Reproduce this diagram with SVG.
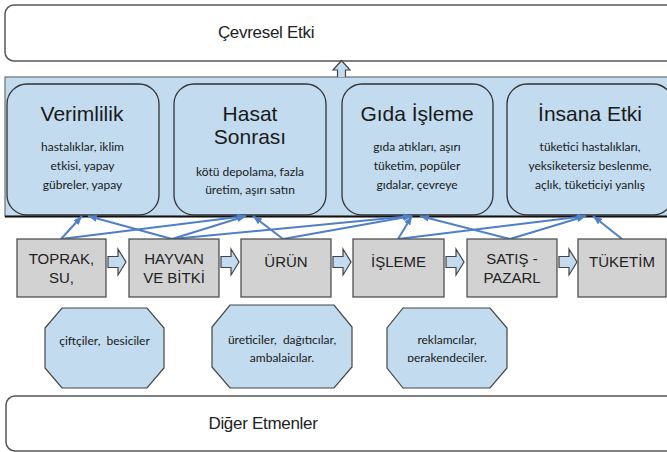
<svg xmlns="http://www.w3.org/2000/svg" width="667" height="452" viewBox="0 0 667 452">
<defs>
<style>
.frame{fill:#ffffff;stroke:#555555;stroke-width:1.5}
.band{fill:#c2dbef;stroke:#707070;stroke-width:1.2}
.impact{fill:#c2dbef;stroke:#333333;stroke-width:1.3}
.step{fill:#d2d2d2;stroke:#444444;stroke-width:1.2}
.actor{fill:#c2dbef;stroke:#444444;stroke-width:1.2}
.blk{fill:#c2dbef;stroke:#444444;stroke-width:1.2}
.big{font-family:"Liberation Sans",Arial,sans-serif;font-size:17px;letter-spacing:-0.3px;fill:#222;text-anchor:middle}
.title{font-family:"Liberation Sans",Arial,sans-serif;font-size:21px;fill:#1a1a1a;text-anchor:middle}
.small{font-family:Lato,"Open Sans",sans-serif;font-size:12px;fill:#1a1a1a;text-anchor:middle;white-space:pre}
.stxt{font-family:"Liberation Sans",Arial,sans-serif;font-size:15px;fill:#222;text-anchor:middle}
.conn{stroke:#4f7fc6;stroke-width:2;fill:none;marker-end:url(#ah)}
</style>
<marker id="ah" markerUnits="userSpaceOnUse" markerWidth="9" markerHeight="7" refX="9" refY="3.5" orient="auto">
<path d="M0,0 L9,3.5 L0,7 z" fill="#4f7fc6"/>
</marker>
<path id="blkarrow" d="M0,-5.5 L10,-5.5 L10,-13 L18,0 L10,13 L10,5.5 L0,5.5 z"/>
<clipPath id="clip2"><rect x="200" y="300" width="320" height="62"/></clipPath>
</defs>

<g id="cevresel-etki">
<rect class="frame" x="5" y="5" width="690" height="56" rx="9"/>
<text class="big" x="266" y="38">Çevresel Etki</text>
</g>

<g id="band">
<rect class="band" x="5" y="77" width="690" height="139.5"/>
<line x1="5" y1="216.5" x2="667" y2="216.5" stroke="#111" stroke-width="2"/>
</g>

<g id="up-arrow">
<path class="blk" d="M337.5,77 L337.5,70 L333,70 L341.5,60.5 L350,70 L345.5,70 L345.5,77"/>
</g>

<g id="verimlilik">
<rect class="impact" x="7" y="84" width="152" height="131" rx="20"/>
<text class="title" x="82" y="121">Verimlilik</text>
<text class="small" x="82.5" y="151">hastalıklar, iklim</text>
<text class="small" x="82.5" y="170">etkisi, yapay</text>
<text class="small" x="82.5" y="189">gübreler, yapay</text>
</g>

<g id="hasat-sonrasi">
<rect class="impact" x="174" y="84" width="152" height="131" rx="20"/>
<text class="title" x="250" y="121">Hasat</text>
<text class="title" x="250" y="144">Sonrası</text>
<text class="small" x="250" y="176">kötü depolama, fazla</text>
<text class="small" x="250" y="194">üretim, aşırı satın</text>
</g>

<g id="gida-isleme">
<rect class="impact" x="342" y="84" width="151" height="131" rx="20"/>
<text class="title" x="417" y="121">Gıda İşleme</text>
<text class="small" x="417" y="151">gıda atıkları, aşırı</text>
<text class="small" x="417" y="170">tüketim, popüler</text>
<text class="small" x="417" y="189">gıdalar, çevreye</text>
</g>

<g id="insana-etki">
<rect class="impact" x="507" y="84" width="166" height="131" rx="20"/>
<text class="title" x="590" y="121">İnsana Etki</text>
<text class="small" x="590" y="151">tüketici hastalıkları,</text>
<text class="small" x="590" y="170">yeksiketersiz beslenme,</text>
<text class="small" x="590" y="189">açlık, tüketiciyi yanlış</text>
</g>

<g id="connectors">
<line class="conn" x1="61" y1="239" x2="82" y2="216"/>
<line class="conn" x1="61" y1="239" x2="246" y2="216"/>
<line class="conn" x1="172" y1="239" x2="88" y2="216"/>
<line class="conn" x1="172" y1="239" x2="246" y2="216"/>
<line class="conn" x1="172" y1="239" x2="412" y2="216"/>
<line class="conn" x1="283" y1="239" x2="253" y2="216"/>
<line class="conn" x1="283" y1="239" x2="412" y2="216"/>
<line class="conn" x1="398" y1="239" x2="412" y2="216"/>
<line class="conn" x1="398" y1="239" x2="586" y2="216"/>
<line class="conn" x1="510" y1="239" x2="420" y2="216"/>
<line class="conn" x1="510" y1="239" x2="586" y2="216"/>
<line class="conn" x1="622" y1="239" x2="593" y2="216"/>
<use href="#blkarrow" class="blk" x="108" y="262"/>
<use href="#blkarrow" class="blk" x="221" y="262"/>
<use href="#blkarrow" class="blk" x="333" y="262"/>
<use href="#blkarrow" class="blk" x="446" y="262"/>
<use href="#blkarrow" class="blk" x="559" y="262"/>
</g>

<g id="toprak">
<rect class="step" x="17" y="239" width="89" height="58"/>
<text class="stxt" x="61.5" y="264">TOPRAK,</text>
<text class="stxt" x="61.5" y="283">SU,</text>
</g>
<g id="hayvan">
<rect class="step" x="129" y="239" width="90" height="58"/>
<text class="stxt" x="174" y="264">HAYVAN</text>
<text class="stxt" x="174" y="283">VE BİTKİ</text>
</g>
<g id="urun">
<rect class="step" x="241" y="239" width="90" height="58"/>
<text class="stxt" x="286" y="267">ÜRÜN</text>
</g>
<g id="isleme">
<rect class="step" x="353" y="239" width="91" height="58"/>
<text class="stxt" x="398.5" y="267">İŞLEME</text>
</g>
<g id="satis">
<rect class="step" x="467" y="239" width="90" height="58"/>
<text class="stxt" x="512" y="264">SATIŞ -</text>
<text class="stxt" x="512" y="283">PAZARL</text>
</g>
<g id="tuketim">
<rect class="step" x="578" y="239" width="88" height="58"/>
<text class="stxt" x="622" y="267">TÜKETİM</text>
</g>

<g id="ciftciler">
<polygon class="actor" points="62,308 147,308 164,328 164,368 147,388 62,388 45,368 45,328"/>
<text class="small" x="104.5" y="345">çiftçiler,  besiciler</text>
</g>
<g id="ureticiler">
<polygon class="actor" points="230,305 334,305 352,327 352,367 334,388 230,388 212,367 212,327"/>
<text class="small" x="282" y="344">üreticiler,  dağıtıcılar,</text>
<text class="small" x="282" y="362" clip-path="url(#clip2)">ambalajcılar.</text>
</g>
<g id="reklamcilar">
<polygon class="actor" points="403,308 490,308 507,328 507,368 490,388 403,388 387,368 387,328"/>
<text class="small" x="447" y="344">reklamcılar,</text>
<text class="small" x="447" y="362" clip-path="url(#clip2)">perakendeciler.</text>
</g>

<g id="diger-etmenler">
<rect class="frame" x="6" y="396" width="690" height="55" rx="9"/>
<text class="big" x="263" y="429">Diğer Etmenler</text>
</g>
</svg>
